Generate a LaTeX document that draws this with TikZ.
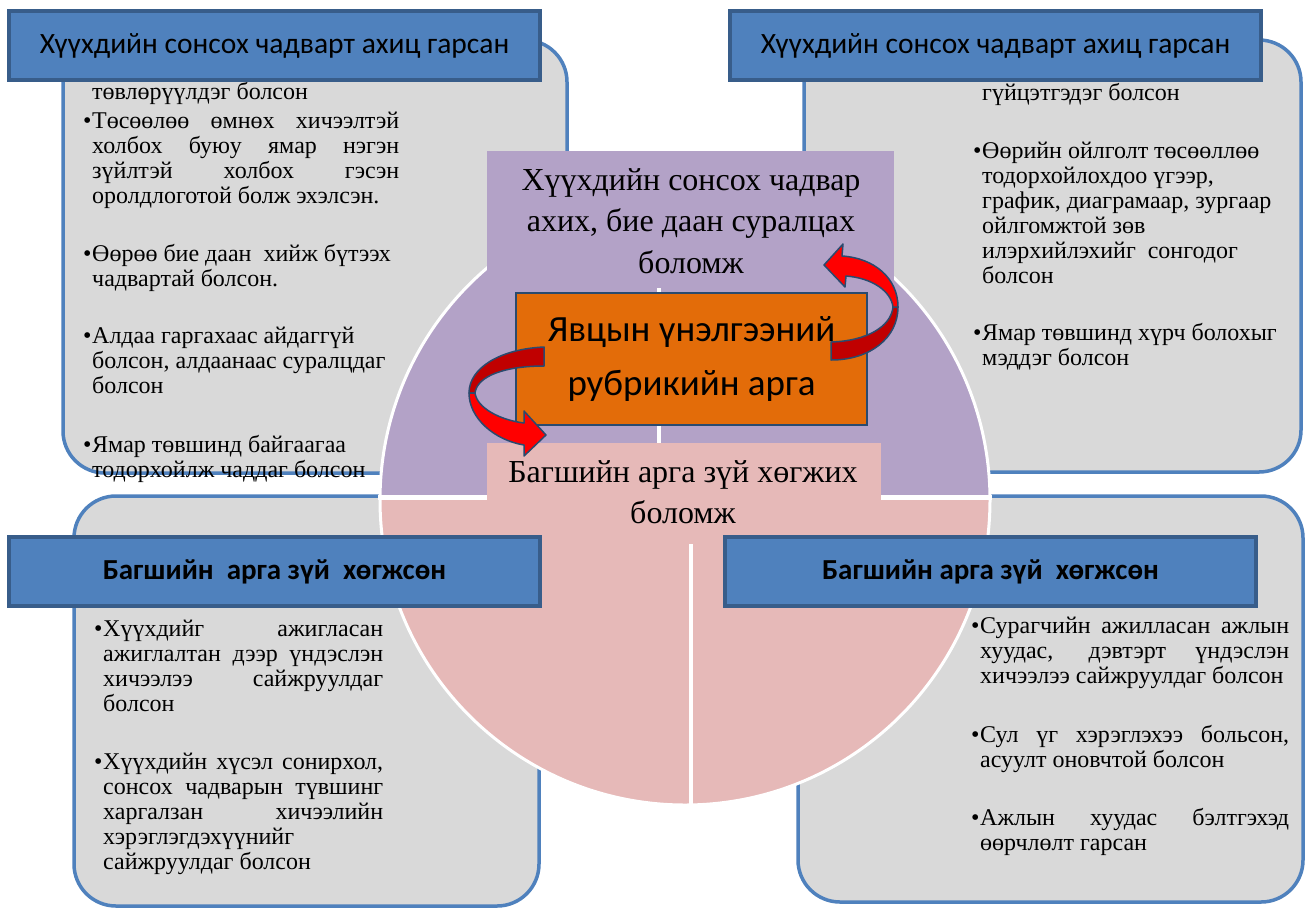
\documentclass[tikz,border=0pt]{standalone}
\usepackage{fontspec}
\setmainfont{Liberation Serif}
\newfontfamily\calfont{Carlito}
\definecolor{panelfill}{HTML}{D9D9D9}
\definecolor{panelline}{HTML}{4F81BD}
\definecolor{hdrfill}{HTML}{4F81BD}
\definecolor{hdrline}{HTML}{385D8A}
\definecolor{lav}{HTML}{B3A2C7}
\definecolor{rose}{HTML}{E6B9B8}
\definecolor{orng}{HTML}{E36C09}
\definecolor{slate}{HTML}{2A4A6E}
\definecolor{redA}{HTML}{FF0000}
\definecolor{redB}{HTML}{C00000}
\newcommand\bu{\makebox[9pt][l]{•}}
\newcommand\J[2]{\makebox[#1][s]{#2}}
\tikzset{
  panel/.style={fill=panelfill, draw=panelline, line width=3.5, rounded corners=42},
  hdr/.style={draw=hdrline, fill=hdrfill, line width=4, inner sep=0, minimum width=531, minimum height=69,
    font=\calfont\fontsize{29.5}{30}\selectfont},
  hdrb/.style={hdr, font=\calfont\bfseries\fontsize{29}{30}\selectfont},
  ptxt/.style={anchor=base west, inner sep=0, font=\fontsize{24}{25}\selectfont},
  ctxt/.style={anchor=base, inner sep=0, font=\fontsize{32}{41.5}\selectfont},
  ribbon/.style={draw=slate, line width=1.5, line join=round},
}
\begin{document}
\begin{tikzpicture}[x=1pt,y=-1pt]
\useasboundingbox (0,0) rectangle (1311,911);
\fill[white] (0,0) rectangle (1311,911);

% side panels
\draw[panel] (63,40) rectangle (567,473);
\draw[panel] (804,40) rectangle (1301,472);
\draw[panel] (74,496) rectangle (539,906);
\draw[panel] (798,496) rectangle (1303,902);

% panel texts
\node[ptxt] (tlA) at (92,99) {төвлөрүүлдэг болсон};
\node[ptxt] (tlB) at (83,128) {\begin{tabular}[t]{@{}l@{}l@{}}
\bu & \J{307pt}{Төсөөлөө өмнөх хичээлтэй}\\
 & \J{307pt}{холбох буюу ямар нэгэн}\\
 & \J{307pt}{зүйлтэй холбох гэсэн}\\
 & оролдлоготой болж эхэлсэн.\end{tabular}};
\node[ptxt] (tlC) at (83,261) {\begin{tabular}[t]{@{}l@{}l@{}}
\bu & Өөрөө бие даан\ \ хийж бүтээх\\
 & чадвартай болсон.\end{tabular}};
\node[ptxt] (tlD) at (83,343) {\begin{tabular}[t]{@{}l@{}l@{}}
\bu & Алдаа гаргахаас айдаггүй\\
 & болсон, алдаанаас суралцдаг\\
 & болсон\end{tabular}};
\node[ptxt] (tlE) at (83,452) {\begin{tabular}[t]{@{}l@{}l@{}}
\bu & Ямар төвшинд байгаагаа\\
 & тодорхойлж чаддаг болсон\end{tabular}};

\node[ptxt] (trA) at (982,100) {гүйцэтгэдэг болсон};
\node[ptxt] (trB) at (973,158) {\begin{tabular}[t]{@{}l@{}l@{}}
\bu & Өөрийн ойлголт төсөөллөө\\
 & тодорхойлохдоо үгээр,\\
 & график, диаграмаар, зургаар\\
 & ойлгомжтой зөв\\
 & илэрхийлэхийг\ \ сонгодог\\
 & болсон\end{tabular}};
\node[ptxt] (trC) at (973,340) {\begin{tabular}[t]{@{}l@{}l@{}}
\bu & Ямар төвшинд хүрч болохыг\\
 & мэддэг болсон\end{tabular}};

\node[ptxt] (blA) at (94,636) {\begin{tabular}[t]{@{}l@{}l@{}}
\bu & \J{280pt}{Хүүхдийг ажигласан}\\
 & \J{280pt}{ажиглалтан дээр үндэслэн}\\
 & \J{280pt}{хичээлээ сайжруулдаг}\\
 & болсон\end{tabular}};
\node[ptxt] (blB) at (94,769) {\begin{tabular}[t]{@{}l@{}l@{}}
\bu & \J{280pt}{Хүүхдийн хүсэл сонирхол,}\\
 & \J{280pt}{сонсох чадварын түвшинг}\\
 & \J{280pt}{харгалзан хичээлийн}\\
 & хэрэглэгдэхүүнийг\\
 & сайжруулдаг болсон\end{tabular}};

\node[ptxt] (brA) at (971,633) {\begin{tabular}[t]{@{}l@{}l@{}}
\bu & \J{309pt}{Сурагчийн ажилласан ажлын}\\
 & \J{309pt}{хуудас, дэвтэрт үндэслэн}\\
 & хичээлээ сайжруулдаг болсон\end{tabular}};
\node[ptxt] (brB) at (971,742) {\begin{tabular}[t]{@{}l@{}l@{}}
\bu & \J{309pt}{Сул үг хэрэглэхээ больсон,}\\
 & асуулт оновчтой болсон\end{tabular}};
\node[ptxt] (brC) at (971,825) {\begin{tabular}[t]{@{}l@{}l@{}}
\bu & \J{309pt}{Ажлын хуудас бэлтгэхэд}\\
 & өөрчлөлт гарсан\end{tabular}};

% central circle
\fill[lav] (685,500) -- (380,500) arc[start angle=180, end angle=360, radius=305] -- cycle;
\fill[rose] (685,500) -- (380,500) arc[start angle=180, end angle=0, radius=305] -- cycle;
\draw[white, line width=3] (685,500) circle[radius=305];
\draw[white, line width=5] (378,497.5) -- (992,497.5);
\draw[white, line width=4] (658.5,190) -- (658.5,497.5);
\draw[white, line width=4] (690.5,497.5) -- (690.5,808);

% text fields
\fill[lav] (487,151) rectangle (894,288);
\fill[rose] (487,443) rectangle (881,544);
\node[ctxt] (skill) at (691,190) {\begin{tabular}[t]{@{}c@{}}Хүүхдийн сонсох чадвар\\ахих, бие даан суралцах\\боломж\end{tabular}};
\node[ctxt] (teach) at (683,482) {\begin{tabular}[t]{@{}c@{}}Багшийн арга зүй хөгжих\\боломж\end{tabular}};

% core box
\node[draw=slate, fill=orng, line width=2.5, minimum width=351, minimum height=132, inner sep=0,
  font=\calfont\fontsize{37}{54}\selectfont, align=center] (core) at (691.5,359)
  {Явцын үнэлгээний\\рубрикийн арга};

% curved ribbon arrows
\filldraw[ribbon, fill=redB] (831,342) -- (831,360) .. controls (870,360) and (898,338) .. (898,307)
  -- (893,307) .. controls (891,327) and (866,341) .. (831,342) -- cycle;
\filldraw[ribbon, fill=redA] (898,307) .. controls (898,278) and (874,258) .. (842,256)
  -- (843,244) -- (824,265) -- (845,287) -- (846,276) .. controls (872,278) and (891,291) .. (893,307) -- cycle;
\filldraw[ribbon, fill=redB] (544,347) .. controls (500,349) and (469,368) .. (469,393)
  -- (475,393) .. controls (477,376) and (505,366) .. (544,366) -- cycle;
\filldraw[ribbon, fill=redA] (469,393) .. controls (469,418) and (494,440) .. (524,445)
  -- (524,456) -- (546,435) -- (524,411) -- (524,423) .. controls (500,420) and (477,408) .. (475,393) -- cycle;

% headers
\node[hdr] (h1) at (274.5,45.5) {Хүүхдийн сонсох чадварт ахиц гарсан};
\node[hdr] (h2) at (995.5,45.5) {Хүүхдийн сонсох чадварт ахиц гарсан};
\node[hdrb] (h3) at (274.5,571.5) {Багшийн\ \ арга зүй\ \ хөгжсөн};
\node[hdrb] (h4) at (990.5,571.5) {Багшийн арга зүй\ \ хөгжсөн};
\end{tikzpicture}
\end{document}
